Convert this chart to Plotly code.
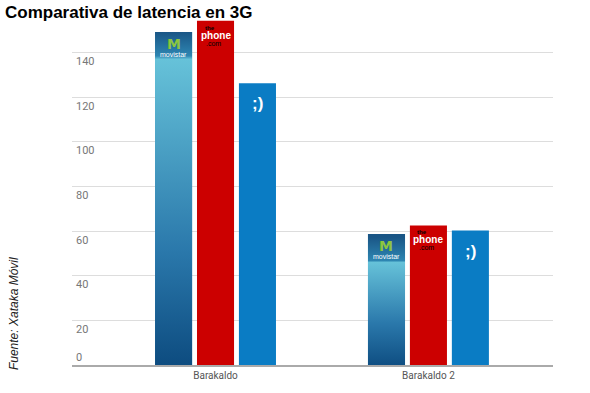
import plotly.graph_objects as go

categories = ["Barakaldo", "Barakaldo 2"]
operators = ["Movistar", "The Phone House", "Tuenti"]
movistar = [149.2, 58.7]
phonehouse = [154.2, 62.5]
tuenti = [126.2, 60.2]
ytick_vals = [0, 20, 40, 60, 80, 100, 120, 140]
ytick_text = ["0", "20", "40", "60", "80", "100", "120", "140"]

series = [movistar, phonehouse, tuenti]
colors = ["#3d95c0", "#cc0000", "#0a7cc4"]
BAR_W = 0.174
OFFSETS = [-0.197, 0.0, 0.197]
xpos = list(range(len(categories)))

fig = go.Figure()
for vals, col, off, name in zip(series, colors, OFFSETS, operators):
    fig.add_trace(go.Bar(
        x=xpos, y=vals, name=name, width=BAR_W, offset=off - BAR_W / 2,
        marker=dict(color=col, line=dict(width=0)), showlegend=False))

# gradient fill for the Movistar bars (light top -> dark bottom, dark header)
HEADER_UNITS = 10.5
for i, v in enumerate(movistar):
    x0 = xpos[i] + OFFSETS[0] - BAR_W / 2
    x1 = xpos[i] + OFFSETS[0] + BAR_W / 2
    h = 1 - HEADER_UNITS / v
    fig.add_trace(go.Scatter(
        x=[x0, x1, x1, x0, x0], y=[0, 0, v, v, 0], mode="lines",
        line=dict(width=0), fill="toself", hoverinfo="skip", showlegend=False,
        fillgradient=dict(type="vertical", start=0, stop=v, colorscale=[
            [0, "#0c4a7e"], [0.35, "#2a78ab"], [min(h, 0.99) - 0.01, "#66c2d9"],
            [min(h, 0.99), "#2e86b2"], [1, "#1a5686"]])))

# logo-like labels on the bars
for i in xpos:
    xm = xpos[i] + OFFSETS[0]
    fig.add_annotation(x=xm, y=movistar[i], text="<b>M</b>", showarrow=False,
                       yanchor="top", yshift=-2, font=dict(color="#8cc63f", size=14, family="DejaVu Sans"))
    fig.add_annotation(x=xm, y=movistar[i], text="movistar", showarrow=False,
                       yanchor="top", yshift=-17, font=dict(color="white", size=7, family="Arial"))
    xr = xpos[i] + OFFSETS[1]
    fig.add_annotation(x=xr, y=phonehouse[i], text="<b>the</b>", showarrow=False,
                       yanchor="top", yshift=-2, xshift=-6, font=dict(color="black", size=6, family="Arial"))
    fig.add_annotation(x=xr, y=phonehouse[i], text="<b>phone</b>", showarrow=False,
                       yanchor="top", yshift=-7, font=dict(color="white", size=10, family="Arial"))
    fig.add_annotation(x=xr, y=phonehouse[i], text=".com", showarrow=False,
                       yanchor="top", yshift=-17, xshift=-2, font=dict(color="black", size=7, family="Arial"))
    xt = xpos[i] + OFFSETS[2]
    fig.add_annotation(x=xt, y=tuenti[i], text="<b>;)</b>", showarrow=False,
                       yanchor="top", yshift=-9, font=dict(color="white", size=17, family="Arial"))

# y tick labels drawn just below their gridlines
for v, t in zip(ytick_vals, ytick_text):
    fig.add_annotation(xref="paper", x=0, xanchor="left", xshift=2, y=v,
                       yshift=(8 if v == 0 else -9), text=t, showarrow=False,
                       font=dict(color="#777777", size=11, family="Roboto"))

# grey band under the baseline
fig.add_shape(type="rect", xref="paper", x0=0, x1=1, yref="y", ysizemode="pixel",
              yanchor=0, y0=0, y1=-17, fillcolor="#efefef", line=dict(width=0), layer="below")

fig.add_annotation(xref="paper", yref="paper", x=-0.12, y=0.148, xanchor="center", yanchor="middle",
                   text="<i>Fuente: Xataka Móvil</i>",
                   textangle=-90, showarrow=False, font=dict(size=12, color="#222222", family="Arial"))

fig.update_layout(
    width=590, height=393,
    margin=dict(l=72, r=37, t=19, b=23),
    paper_bgcolor="white", plot_bgcolor="white",
    barmode="overlay",
    title=dict(text="<b>Comparativa de latencia en 3G</b>", xref="container", x=5 / 590,
               xanchor="left", yref="container", y=1 - 12 / 393, yanchor="middle",
               font=dict(size=17, color="black", family="Arial")),
    xaxis=dict(range=[-0.674, 1.585], tickvals=xpos, ticktext=categories,
               showgrid=False, zeroline=False, showline=True, linecolor="#aaaaaa", linewidth=2,
               ticks="", tickfont=dict(size=10, color="#555555", family="Roboto")),
    yaxis=dict(range=[0, 155], tickvals=ytick_vals, showticklabels=False,
               showgrid=True, gridcolor="#dddddd", gridwidth=1, zeroline=False, ticks=""),
)

fig.write_html("out.html")
